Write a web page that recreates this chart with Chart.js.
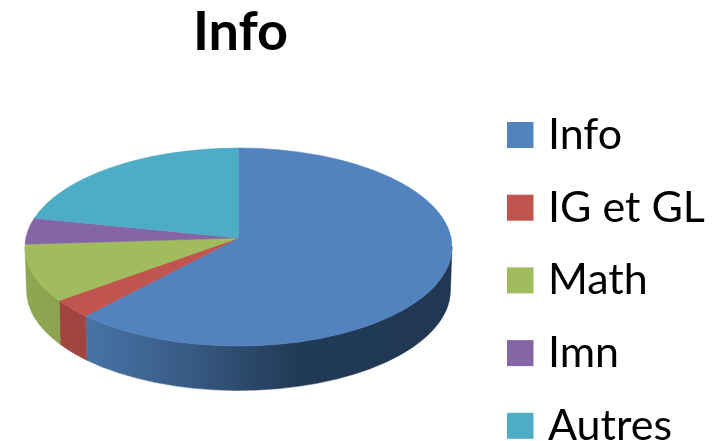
<!DOCTYPE html>
<html>
<head>
<meta charset="utf-8">
<script src="https://cdn.jsdelivr.net/npm/chart.js@4"></script>
<style>
  html, body { margin: 0; padding: 0; background: #fff; overflow: hidden; }
  canvas { display: block; }
</style>
</head>
<body>
<canvas id="pie" width="715" height="441"></canvas>
<script>
const chartTitle = "Info";
const categories = ["Info", "IG et GL", "Math", "Imn", "Autres"];
const shares = [61.7, 3.0, 9.3, 4.3, 21.7];
const topColors = ["#5383bf", "#c0544f", "#a0bc5c", "#8466a6", "#4dacc6"];
const sideColors = [
  [[87, "#4773a6"], [160, "#3d628f"], [240, "#2d4b6e"], [300, "#213a56"], [452, "#203852"]],
  [[59, "#a14541"], [87, "#a04441"]],
  [[25, "#8fa852"], [60, "#8ca24f"]],
  [[25, "#6a5088"], [40, "#6a5088"]],
  [[25, "#3a8ea6"], [240, "#3a8ea6"]]
];

// top face of the pie: ellipse, and where the centre lands after the tilt
const topFace = { x: 238.5, y: 247, rx: 213.5, ry: 99, lean: -0.091 };
const bottomFace = { x: 238.5, y: 290, rx: 212, ry: 100.5 };

// circle angle -> ellipse angle, so a slice stays straight under perspective
function tiltAngle(a) {
  const u = Math.cos(a), v = Math.sin(a), p = topFace.lean;
  const d = 1 + p * v;
  const t = Math.atan2((v + p) / d, u * Math.sqrt(1 - p * p) / d);
  // keep it on the same turn as a
  return t + 2 * Math.PI * Math.round((a - t) / (2 * Math.PI));
}

const pie3d = {
  id: "pie3d",
  beforeDatasetDraw(chart) {
    const ctx = chart.ctx;
    const arcs = chart.getDatasetMeta(0).data;
    const f = topFace, b = bottomFace;

    // rim first, only the front half shows
    arcs.forEach((arc, i) => {
      const t0 = Math.max(tiltAngle(arc.startAngle), 0);
      const t1 = Math.min(tiltAngle(arc.endAngle), Math.PI);
      if (t1 <= t0) return;
      const stops = sideColors[i];
      const x0 = stops[0][0], x1 = stops[stops.length - 1][0];
      const grad = ctx.createLinearGradient(x0, 0, x1, 0);
      stops.forEach(s => grad.addColorStop((s[0] - x0) / (x1 - x0), s[1]));
      ctx.fillStyle = grad;
      ctx.strokeStyle = grad;
      ctx.lineWidth = 0.5;
      ctx.beginPath();
      ctx.ellipse(f.x, f.y, f.rx, f.ry, 0, t0, t1);
      ctx.ellipse(b.x, b.y, b.rx, b.ry, 0, t1, t0, true);
      ctx.closePath();
      ctx.fill();
      ctx.stroke();
    });

    // then the top face, thin stroke hides the seams between slices
    const apexX = f.x;
    const apexY = f.y + f.lean * f.ry;
    arcs.forEach((arc, i) => {
      ctx.fillStyle = topColors[i];
      ctx.strokeStyle = topColors[i];
      ctx.lineWidth = 0.6;
      ctx.beginPath();
      ctx.moveTo(apexX, apexY);
      ctx.ellipse(f.x, f.y, f.rx, f.ry, 0, tiltAngle(arc.startAngle), tiltAngle(arc.endAngle));
      ctx.closePath();
      ctx.fill();
      ctx.stroke();
    });
    return false;
  },
  afterDraw(chart) {
    const ctx = chart.ctx;
    ctx.save();
    ctx.textBaseline = "alphabetic";
    ctx.fillStyle = "#000";
    ctx.textAlign = "center";
    ctx.font = "bold 54px Lato";
    ctx.fillText(chartTitle, 240.5, 50);
    ctx.textAlign = "left";
    ctx.font = "43px Lato";
    categories.forEach((name, i) => {
      const y = 122 + i * 72.7;
      ctx.fillStyle = topColors[i];
      ctx.fillRect(507, y, 26.5, 26);
      ctx.fillStyle = "#000";
      ctx.fillText(name, 548, y + 27);
    });
    ctx.restore();
  }
};

new Chart(document.getElementById("pie"), {
  type: "pie",
  data: {
    labels: categories,
    datasets: [{ data: shares, backgroundColor: topColors, borderWidth: 0 }]
  },
  options: {
    responsive: false,
    animation: false,
    plugins: {
      legend: { display: false },
      title: { display: false },
      tooltip: { enabled: false }
    }
  },
  plugins: [pie3d]
});
</script>
</body>
</html>
